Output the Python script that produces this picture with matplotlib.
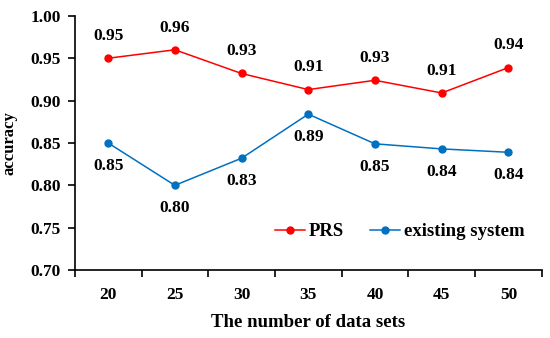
import matplotlib.pyplot as plt

categories = ['20', '25', '30', '35', '40', '45', '50']
prs = [0.950, 0.960, 0.932, 0.913, 0.924, 0.909, 0.939]
existing = [0.850, 0.800, 0.832, 0.884, 0.849, 0.843, 0.839]
prs_labels = ['0.95', '0.96', '0.93', '0.91', '0.93', '0.91', '0.94']
existing_labels = ['0.85', '0.80', '0.83', '0.89', '0.85', '0.84', '0.84']

plt.rcParams['font.family'] = ['Liberation Serif', 'DejaVu Serif']
plt.rcParams['font.weight'] = 'bold'
fs = 12.5

fig = plt.figure(figsize=(5.5, 3.38), dpi=100)
ax = fig.add_axes([0.136, 0.201, 0.849, 0.752])

x = list(range(len(categories)))
ax.plot(x, prs, color='#ff0000', marker='o', markersize=5, linewidth=1.1, label='PRS')
ax.plot(x, existing, color='#0070c0', marker='o', markersize=5, linewidth=1.1, label='existing system')

for i in x:
    ax.annotate(prs_labels[i], (i, prs[i]), xytext=(0, 16), textcoords='offset points',
                ha='center', va='center', fontsize=fs, fontweight='bold')
    ax.annotate(existing_labels[i], (i, existing[i]), xytext=(0, -16.5), textcoords='offset points',
                ha='center', va='center', fontsize=fs, fontweight='bold')

ax.set_xlim(-0.5, len(categories) - 0.5)
ax.set_ylim(0.70, 1.00)
ax.set_yticks([0.70, 0.75, 0.80, 0.85, 0.90, 0.95, 1.00])
ax.set_yticklabels(['%.2f' % v for v in ax.get_yticks()], fontsize=fs, fontweight='bold')
ax.set_xticks(x)
ax.set_xticklabels(categories, fontsize=fs, fontweight='bold')
ax.set_xticks([i - 0.5 for i in range(len(categories) + 1)], minor=True)
ax.tick_params(axis='x', which='major', length=0, pad=12)
ax.tick_params(axis='x', which='minor', length=5, direction='out', width=1.2)
ax.tick_params(axis='y', length=5, direction='out', pad=5, width=1.2)

for s in ['top', 'right']:
    ax.spines[s].set_visible(False)
ax.spines['left'].set_linewidth(1.2)
ax.spines['bottom'].set_linewidth(1.2)

ax.set_xlabel('The number of data sets', fontsize=13.5, fontweight='bold', labelpad=8)
ax.set_ylabel('accuracy', fontsize=12, fontweight='bold')
ax.yaxis.set_label_coords(-0.122, 0.5)

ax.legend(loc='center', bbox_to_anchor=(0.696, 0.15), ncol=2, frameon=False,
          fontsize=13.5, handlelength=1.6, columnspacing=1.4, handletextpad=0.2)

fig.savefig('out.png', dpi=100)
